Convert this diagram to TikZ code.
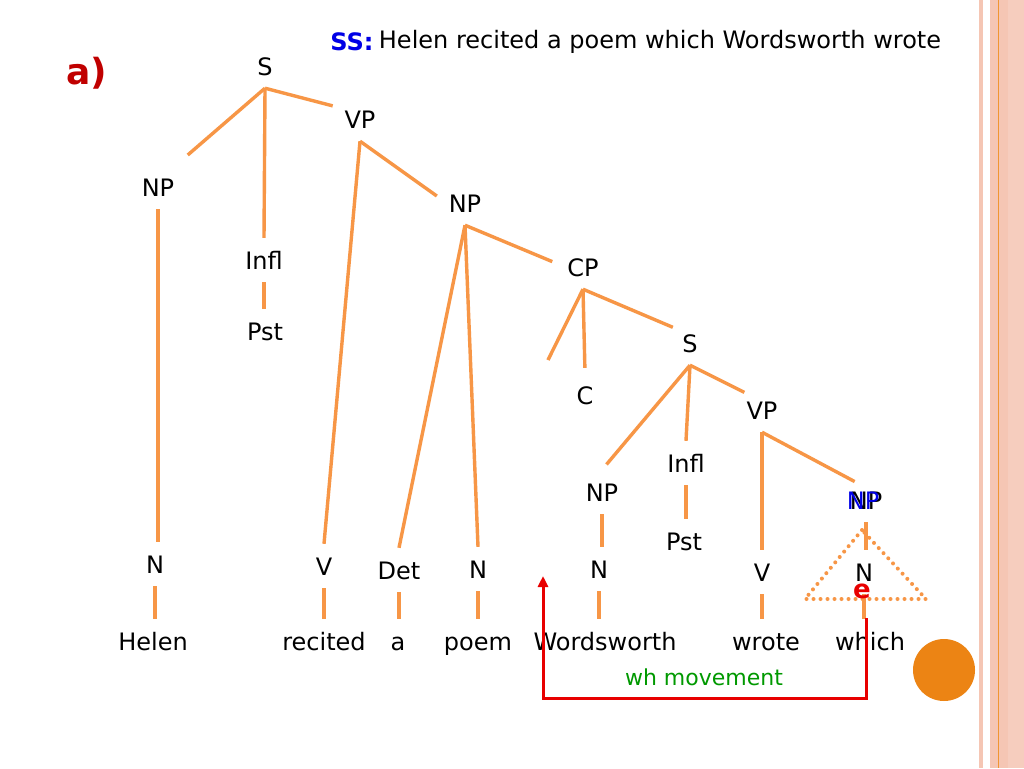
\documentclass[tikz,border=0pt]{standalone}
\usepackage{fontspec}
\setmainfont{DejaVu Sans}
\usetikzlibrary{calc,arrows.meta}
\definecolor{treeline}{RGB}{247,150,70}
\definecolor{dotorange}{RGB}{236,132,20}
\definecolor{bordersalmon}{RGB}{245,198,180}
\definecolor{borderlight}{RGB}{246,205,190}
\definecolor{borderline}{RGB}{240,150,50}
\definecolor{mvred}{RGB}{232,0,0}
\definecolor{mvgreen}{RGB}{0,153,0}
\definecolor{ssblue}{RGB}{0,0,230}
\definecolor{labelred}{RGB}{192,0,0}
\begin{document}
\begin{tikzpicture}[x=1pt,y=-1pt,
  lbl/.style={font=\fontsize{24}{28}\selectfont, text height=18pt, text depth=0pt, inner xsep=2pt, inner ysep=13pt},
  edge/.style={draw=treeline, line width=3.4pt},
  tri/.style={draw=treeline, line width=4pt, dash pattern=on 0pt off 7pt, line cap=round},
  move/.style={draw=mvred, line width=3pt, -{Triangle[length=11pt,width=10pt]}}]
\useasboundingbox (0,0) rectangle (1024,768);
\fill[white] (0,0) rectangle (1024,768);
% right border
\fill[bordersalmon] (979,0) rectangle (983,768);
\fill[bordersalmon] (990,0) rectangle (1024,768);
\fill[borderlight] (1008,0) rectangle (1024,768);
\fill[borderline] (997.5,0) rectangle (999,768);

% title
\node[font=\fontsize{36}{40}\selectfont\bfseries, text=labelred, inner sep=0] (alabel) at (87,73) {a)};
\node[font=\fontsize{24}{28}\selectfont\bfseries, text=ssblue, inner sep=0] (sslbl) at (352,42) {SS:};
\node[font=\fontsize{24}{28}\selectfont, anchor=west, inner sep=0] (sentence) at ([xshift=5pt]sslbl.east) {Helen recited a poem which Wordsworth wrote};

% tree labels
\node[lbl] (S1) at (265,66) {S};
\node[lbl] (NP1) at (158,187) {NP};
\node[lbl] (Infl1) at (264,260) {Infl};
\node[lbl] (VP1) at (360,119) {VP};
\node[lbl] (N1) at (155,564) {N};
\node[lbl] (Helen) at (153,641) {Helen};
\node[lbl] (Pst1) at (265,331) {Pst};
\node[lbl] (V1) at (324,566) {V};
\node[lbl] (recited) at (324,641) {recited};
\node[lbl] (NP2) at (465,203) {NP};
\node[lbl] (Det) at (399,570) {Det};
\node[lbl] (a) at (398,641) {a};
\node[lbl] (N2) at (478,569) {N};
\node[lbl] (poem) at (478,641) {poem};
\node[lbl] (CP) at (583,267) {CP};
\node[lbl] (C) at (585,395) {C};
\node[lbl] (S2) at (690,343) {S};
\node[lbl] (NP3) at (602,492) {NP};
\node[lbl] (Infl2) at (686,463) {Infl};
\node[lbl] (VP2) at (762,410) {VP};
\node[lbl] (N3) at (599,569) {N};
\node[lbl] (Wordsworth) at (605,641) {Wordsworth};
\node[lbl] (Pst2) at (684,541) {Pst};
\node[lbl] (V2) at (762,572) {V};
\node[lbl] (wrote) at (766,641) {wrote};
\node[lbl] (NP4) at (866,500) {NP};
\node[lbl, text=ssblue] (NP4b) at (863,500) {NP};
\node[lbl] (N4) at (864,572) {N};
\node[lbl] (which) at (870,641) {which};

\coordinate (CPgap) at (548,360);

% edges
\draw[edge, shorten >=15pt] (S1.south) -- (NP1.north east);
\draw[edge] (S1.south) -- (Infl1.north);
\draw[edge, shorten >=10pt] (S1.south) -- (VP1.149);
\draw[edge] (NP1.south) -- (NP1.south |- N1.north);
\draw[edge] (N1.south) -- (N1.south |- Helen.north);
\draw[edge] (Infl1.south) -- (Infl1.south |- Pst1.north);
\draw[edge] (VP1.south) -- (V1.north);
\draw[edge, shorten >=12pt] (VP1.south) -- (NP2.west);
\draw[edge] (V1.south) -- (V1.south |- recited.north);
\draw[edge] (NP2.south) -- (Det.north);
\draw[edge] (NP2.south) -- (N2.north);
\draw[edge, shorten >=14pt] (NP2.south) -- (CP.west);
\draw[edge] (Det.south) -- (Det.south |- a.north);
\draw[edge] (N2.south) -- (N2.south |- poem.north);
\draw[edge] (CP.south) -- (CPgap);
\draw[edge, shorten >=5pt] (CP.south) -- (C.north);
\draw[edge, shorten >=8pt] (CP.south) -- (S2.128);
\draw[edge, shorten >=7pt] (S2.south) -- (NP3.north);
\draw[edge] (S2.south) -- (Infl2.north);
\draw[edge] (S2.south) -- (VP2.135);
\draw[edge] (NP3.south) -- (NP3.south |- N3.north);
\draw[edge] (N3.south) -- (N3.south |- Wordsworth.north);
\draw[edge] (Infl2.south) -- (Infl2.south |- Pst2.north);
\draw[edge] (VP2.south) -- (V2.north);
\draw[edge, shorten >=-8pt] (VP2.south) -- (NP4.north west);
\draw[edge] (V2.south) -- (V2.south |- wrote.north);
\draw[edge] (NP4.south) -- (NP4.south |- N4.north);
\draw[edge] (N4.south) -- (N4.south |- which.north);

% triangle over the empty NP
\draw[tri] (862,530) -- (805,599) -- (926,599) -- cycle;
\node[font=\fontsize{26}{28}\selectfont\bfseries, text=mvred, inner sep=0] (e) at (862,591) {e};

% wh movement
\coordinate (mvstart) at (866,618);
\coordinate (mvbottom) at (0,698);
\coordinate (mvend) at (543,576);
\draw[move] (mvstart) -- (mvstart |- mvbottom) -| (mvend);
\node[font=\fontsize{22}{26}\selectfont, text=mvgreen, inner sep=0] (mvlabel) at (704,677) {wh movement};

% decorative dot
\node[circle, fill=dotorange, minimum size=62pt, inner sep=0] (dot) at (944,670) {};
\end{tikzpicture}
\end{document}
